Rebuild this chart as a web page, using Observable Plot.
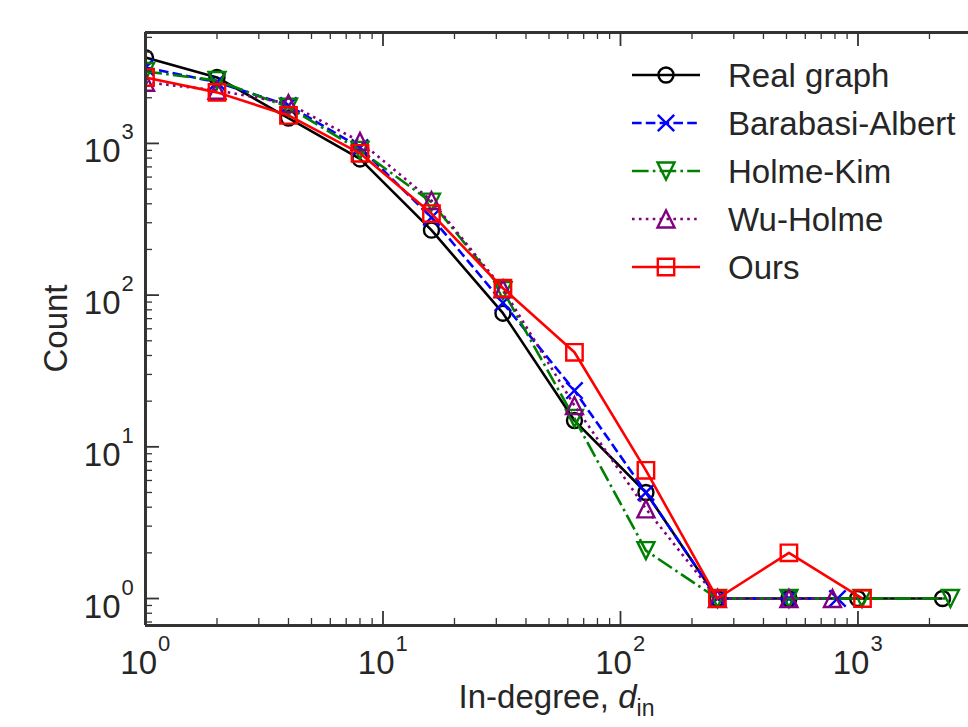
<!DOCTYPE html>
<html><head><meta charset="utf-8">
<script src="https://cdn.jsdelivr.net/npm/d3@7"></script>
<script src="https://cdn.jsdelivr.net/npm/@observablehq/plot@0.6"></script>
<style>
html,body{margin:0;padding:0;background:#fff;overflow:hidden}
#chart{position:relative;width:968px;height:727px}
</style></head><body><div id="chart"></div>
<script>
// ---- data ----
const seriesNames = ["Real graph", "Barabasi-Albert", "Holme-Kim", "Wu-Holme", "Ours"];
const xReal = [1, 2, 4, 8, 16, 32, 64, 128, 256, 512, 997, 2270];
const yReal = [3680, 2720, 1470, 790, 268, 76, 14.9, 5.0, 1, 1, 1, 1];
const xBA   = [1, 2, 4, 8, 16, 32, 64, 128, 256, 512, 820];
const yBA   = [3170, 2530, 1780, 940, 325, 89, 23.5, 5.0, 1, 1, 1];
const xHK   = [1, 2, 4, 8, 16, 32, 64, 128, 256, 512, 1040, 2450];
const yHK   = [2980, 2600, 1730, 900, 410, 107, 15.4, 2.07, 1, 1, 1, 1];
const xWH   = [1, 2, 4, 8, 16, 32, 64, 128, 256, 512, 781];
const yWH   = [2530, 2240, 1830, 1030, 420, 110, 18.7, 3.9, 1, 1, 1];
const xOurs = [1, 2, 4, 8, 16, 32, 64, 128, 256, 512, 1045];
const yOurs = [2720, 2170, 1530, 860, 345, 111, 42, 7.0, 1, 2, 1];

const xMajor = [1, 10, 100, 1000];
const xMinor = [2,3,4,5,6,7,8,9,20,30,40,50,60,70,80,90,200,300,400,500,600,700,800,900,2000];
const yMajor = [1, 10, 100, 1000];
const yMinor = [0.7,0.8,0.9,2,3,4,5,6,7,8,9,20,30,40,50,60,70,80,90,200,300,400,500,600,700,800,900,2000,3000,4000,5000];
const tickBase = "10";
const xExp = ["0", "1", "2", "3"];
const yExp = ["0", "1", "2", "3"];
const xLabelMain = "In-degree, ";
const xLabelVar = "d";
const xLabelSub = "in";
const yLabel = "Count";

// ---- layout ----
const W = 968, H = 727, mL = 145, mT = 32, mB = 102, mR = 0;
const pw = W - mL - mR, ph = H - mT - mB;
const xDomain = [1, 2920], yDomain = [0.664, 5385];
const FONT = "'Liberation Sans', Arial, Helvetica, sans-serif";
const INK = "#262626", AX = "#333333";
const LW = 2.6, MW = 2.4;

// ---- symbols (matplotlib-like, open) ----
const rad = s => Math.sqrt(s / Math.PI);
const symCircle = {draw(c, s) { const r = rad(s); c.moveTo(r, 0); c.arc(0, 0, r, 0, 2 * Math.PI); c.closePath(); }};
const symX = {draw(c, s) { const r = rad(s); c.moveTo(-r, -r); c.lineTo(r, r); c.moveTo(-r, r); c.lineTo(r, -r); }};
const symTriDown = {draw(c, s) { const r = rad(s); c.moveTo(0, r); c.lineTo(-r, -r); c.lineTo(r, -r); c.closePath(); }};
const symTriUp = {draw(c, s) { const r = rad(s); c.moveTo(0, -r); c.lineTo(-r, r); c.lineTo(r, r); c.closePath(); }};
const symSquare = {draw(c, s) { const r = rad(s); c.rect(-r, -r, 2 * r, 2 * r); }};

const series = [
  {name: seriesNames[0], xs: xReal, ys: yReal, color: "#000000", dash: null, sym: symCircle, r: 7.5},
  {name: seriesNames[1], xs: xBA, ys: yBA, color: "#0000ff", dash: "9.6,4.2", sym: symX, r: 8.2},
  {name: seriesNames[2], xs: xHK, ys: yHK, color: "#008000", dash: "16.6,4.2,2.6,4.2", sym: symTriDown, r: 8.5},
  {name: seriesNames[3], xs: xWH, ys: yWH, color: "#800080", dash: "2.6,4.3", sym: symTriUp, r: 8.5},
  {name: seriesNames[4], xs: xOurs, ys: yOurs, color: "#ff0000", dash: null, sym: symSquare, r: 8.2}
];

const marks = [];
for (const s of series) {
  const data = s.xs.map((x, i) => ({x, y: s.ys[i]}));
  marks.push(Plot.line(data, {x: "x", y: "y", stroke: s.color, strokeWidth: LW, strokeDasharray: s.dash, strokeLinejoin: "round", strokeLinecap: "butt", clip: true}));
  marks.push(Plot.dot(data, {x: "x", y: "y", symbol: s.sym, r: s.r, stroke: s.color, strokeWidth: MW, fill: "none", clip: true}));
}

// frame (top, left, bottom) and inward ticks
marks.push(
  Plot.ruleX(xMajor, {x: d => d, insetTop: ph - 14, stroke: AX, strokeWidth: 1.8}),
  Plot.ruleX(xMajor, {x: d => d, insetBottom: ph - 14, stroke: AX, strokeWidth: 1.8}),
  Plot.ruleX(xMinor, {x: d => d, insetTop: ph - 7, stroke: AX, strokeWidth: 1.3}),
  Plot.ruleX(xMinor, {x: d => d, insetBottom: ph - 7, stroke: AX, strokeWidth: 1.3}),
  Plot.ruleY(yMajor, {y: d => d, insetRight: pw - 14, stroke: AX, strokeWidth: 1.8}),
  Plot.ruleY(yMinor, {y: d => d, insetRight: pw - 7, stroke: AX, strokeWidth: 1.3}),
  Plot.ruleY([yDomain[0]], {y: d => d, stroke: AX, strokeWidth: 3}),
  Plot.ruleY([yDomain[1]], {y: d => d, stroke: AX, strokeWidth: 3}),
  Plot.ruleX([xDomain[0]], {x: d => d, stroke: AX, strokeWidth: 3})
);

// tick labels: "10" with superscript exponent
marks.push(
  Plot.text(xMajor, {x: d => d, text: () => tickBase, frameAnchor: "bottom", lineAnchor: "bottom", textAnchor: "end", dx: 11.5, dy: 48, fontSize: 33, fill: INK}),
  Plot.text(xMajor, {x: d => d, text: (d, i) => xExp[i], frameAnchor: "bottom", lineAnchor: "bottom", textAnchor: "start", dx: 12.5, dy: 25, fontSize: 22, fill: INK}),
  Plot.text(yMajor, {y: d => d, text: () => tickBase, frameAnchor: "left", lineAnchor: "bottom", textAnchor: "end", dx: -25, dy: 19, fontSize: 33, fill: INK}),
  Plot.text(yMajor, {y: d => d, text: (d, i) => yExp[i], frameAnchor: "left", lineAnchor: "bottom", textAnchor: "start", dx: -24, dy: -4, fontSize: 22, fill: INK})
);

const svg = Plot.plot({
  width: W, height: H,
  marginLeft: mL, marginRight: mR, marginTop: mT, marginBottom: mB,
  x: {type: "log", domain: xDomain, axis: null},
  y: {type: "log", domain: yDomain, axis: null},
  style: {fontFamily: FONT, background: "#fff", color: INK},
  marks
});
document.getElementById("chart").appendChild(svg);

// axis titles
const root = d3.select(svg);
const xt = root.append("text")
  .attr("x", mL + pw / 2).attr("y", 708)
  .attr("text-anchor", "middle").attr("font-size", 33).attr("fill", INK).attr("font-family", FONT);
xt.append("tspan").text(xLabelMain);
xt.append("tspan").attr("font-style", "italic").text(xLabelVar);
xt.append("tspan").attr("font-size", 23).attr("dy", 8).text(xLabelSub);

root.append("text")
  .attr("transform", `translate(67,${mT + ph / 2}) rotate(-90)`)
  .attr("text-anchor", "middle").attr("font-size", 33).attr("fill", INK).attr("font-family", FONT)
  .text(yLabel);

// legend (inside plot, upper right)
const lg = root.append("g");
series.forEach((s, i) => {
  const cy = 75 + i * 48;
  const row = lg.append("g");
  row.append("line").attr("x1", 632).attr("x2", 700).attr("y1", cy).attr("y2", cy)
    .attr("stroke", s.color).attr("stroke-width", LW).attr("stroke-dasharray", s.dash);
  row.append("path").attr("transform", `translate(666,${cy})`)
    .attr("d", d3.symbol(s.sym, Math.PI * s.r * s.r)())
    .attr("fill", "none").attr("stroke", s.color).attr("stroke-width", MW);
  row.append("text").attr("x", 728).attr("y", cy + 12).attr("text-anchor", "start")
    .attr("font-size", 33).attr("fill", INK).attr("font-family", FONT).text(s.name);
});
</script></body></html>
